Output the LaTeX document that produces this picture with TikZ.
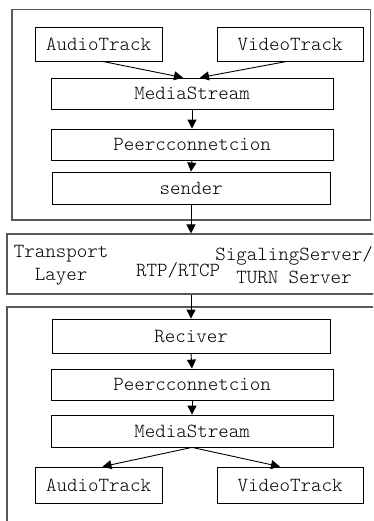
\documentclass[tikz,border=0pt]{standalone}
\usetikzlibrary{arrows.meta,calc}
\begin{document}
\begin{tikzpicture}[x=1pt,y=-1pt,
  box/.style={draw=black,line width=0.8pt,rectangle,inner sep=0pt,
    font=\ttfamily\fontseries{l}\fontsize{20}{24}\selectfont},
  frame/.style={draw=black!65,line width=1.1pt,rectangle,inner sep=0pt},
  lbl/.style={font=\ttfamily\fontseries{l}\fontsize{20}{23}\selectfont,inner sep=0pt,align=center},
  arr/.style={line width=0.9pt,-{Triangle[length=9pt,width=9pt]}}]
\clip (0,0) rectangle (373,521);
\fill[white] (0,0) rectangle (373,521);

% sender side
\node[frame,minimum width=358.5,minimum height=210.5] (topframe) at (191.25,114.75) {};
\node[box,minimum width=127,minimum height=34] (audio1) at (98.5,44) {AudioTrack};
\node[box,minimum width=146,minimum height=34] (video1) at (290,44) {VideoTrack};
\node[box,minimum width=282,minimum height=31] (ms1) at (192,93.5) {MediaStream};
\node[box,minimum width=282,minimum height=31] (pc1) at (192,144.5) {Peercconnetcion};
\node[box,minimum width=278,minimum height=32] (sender) at (191,188) {sender};

% transport layer
\node[frame,minimum width=383,minimum height=60] (transport) at (198.5,264) {};
\node[lbl] (tl) at (61,265) {Transport\\Layer};
\node[lbl] (rtp) at (178,270) {RTP/RTCP};
\node[lbl] (sig) at (294,265) {SigalingServer/\\TURN Server};

% receiver side
\node[frame,minimum width=383,minimum height=233] (botframe) at (198.5,423.5) {};
\node[box,minimum width=278,minimum height=34] (recv) at (191,336) {Reciver};
\node[box,minimum width=282,minimum height=31] (pc2) at (192,384.5) {Peercconnetcion};
\node[box,minimum width=282,minimum height=32] (ms2) at (192,431) {MediaStream};
\node[box,minimum width=127,minimum height=36] (audio2) at (98.5,485) {AudioTrack};
\node[box,minimum width=146,minimum height=36] (video2) at (290,485) {VideoTrack};

% arrow end points
\coordinate (msin1) at ($(ms1.north)+(-9,0)$);
\coordinate (msin2) at ($(ms1.north)+(8,0)$);
\coordinate (a2in) at ($(audio2.north)+(4,0)$);
\coordinate (v2in) at ($(video2.north)+(-10,0)$);

% connectors
\draw[arr] ($(audio1.south)+(4,0)$) -- (msin1);
\draw[arr] ($(video1.south)+(-3,0)$) -- (msin2);
\draw[arr] (ms1.south) -- (pc1.north);
\draw[arr] (pc1.south) -- (sender.north);
\draw[arr] (sender.south) -- (sender.south |- transport.north);
\draw[arr] (recv.north |- transport.south) -- (recv.north);
\draw[arr] (recv.south) -- (pc2.north);
\draw[arr] (pc2.south) -- (ms2.north);
\draw[arr] (ms2.south) -- (a2in);
\draw[arr] (ms2.south) -- (v2in);
\end{tikzpicture}
\end{document}
